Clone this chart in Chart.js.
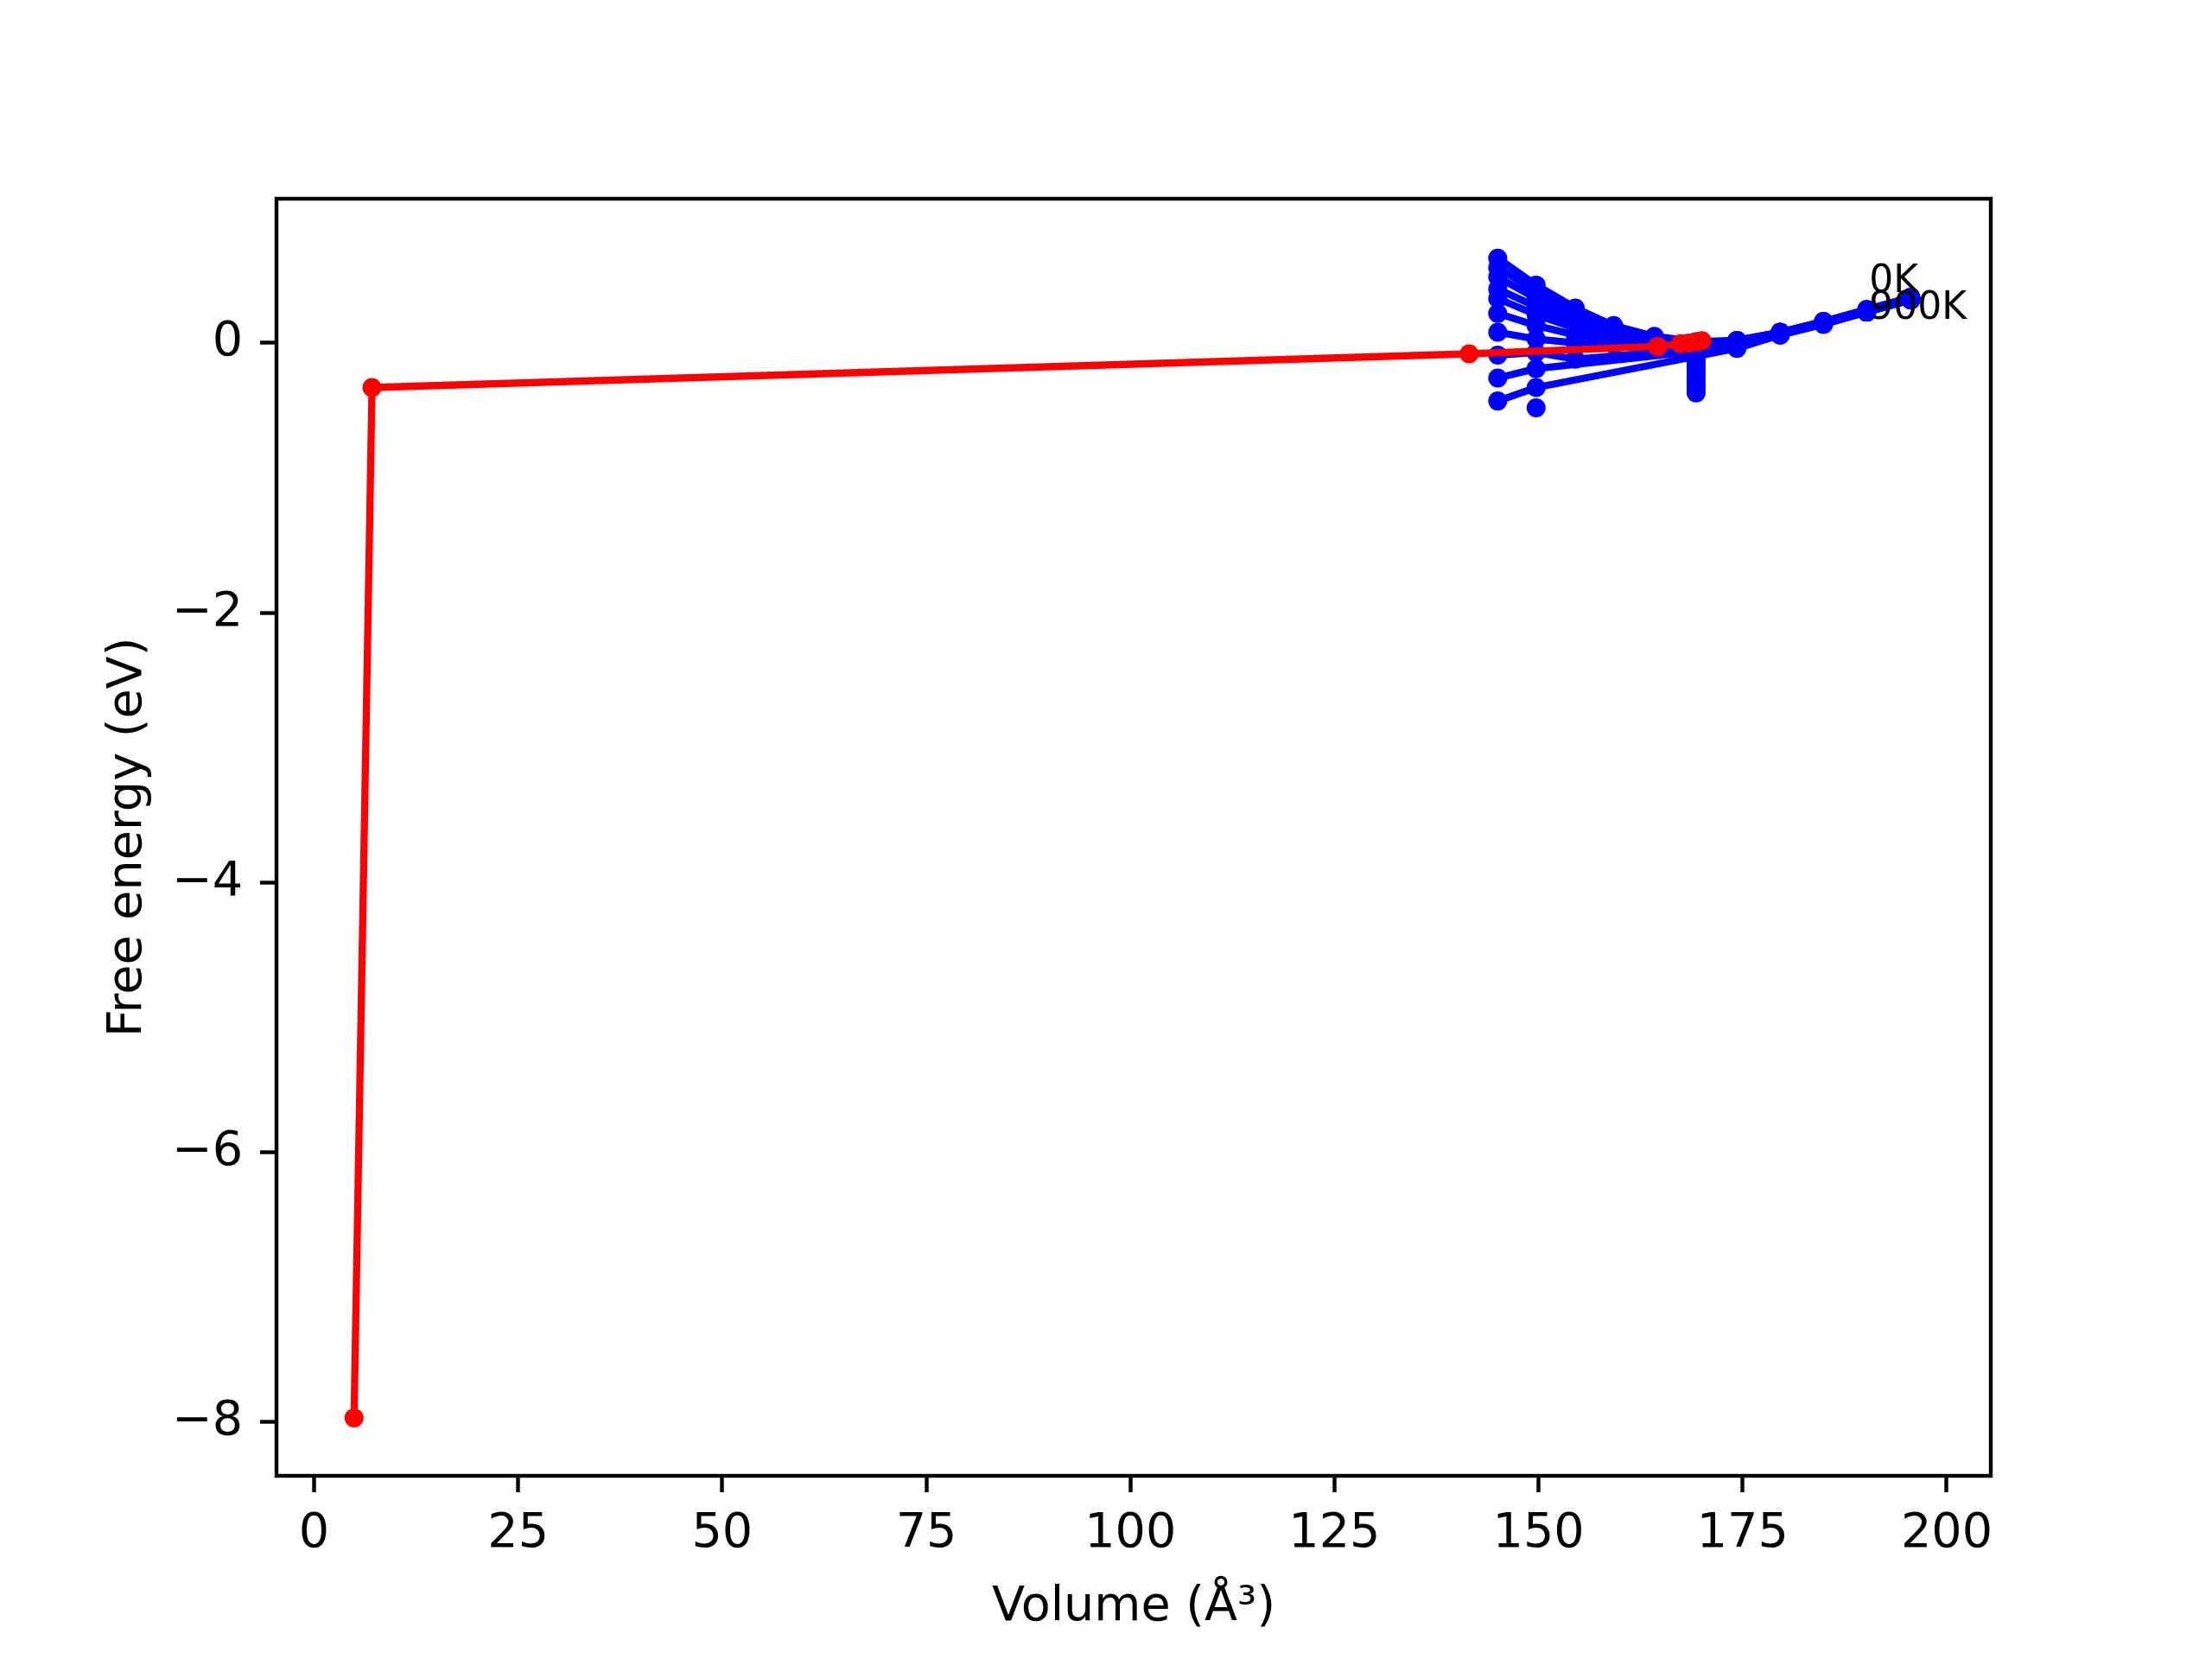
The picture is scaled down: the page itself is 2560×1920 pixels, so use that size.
<!DOCTYPE html>
<html>
<head>
<meta charset="utf-8">
<style>
  html, body { margin: 0; padding: 0; background: #ffffff; }
  #grafico { display: block; }
</style>
<script src="https://cdn.jsdelivr.net/npm/chart.js@4.4.1/dist/chart.umd.min.js"></script>
</head>
<body>
<canvas id="grafico" width="2560" height="1920"></canvas>
<script>
// volume grid used by the blue curves (A^3)
const volumes = [145.0, 149.7, 154.5, 159.2, 164.2, 169.3, 174.3, 179.6, 184.9, 190.2, 195.6];

// free energy (eV) per temperature, null = no point at that volume
const f0K   = [0.63, 0.43, 0.26, 0.13, 0.05, 0.01, 0.02, 0.08, 0.16, 0.25, 0.34];
const f100K = [0.56, 0.38, 0.22, 0.11, 0.04, 0.00, 0.02, 0.08, 0.16, 0.24, 0.34];
const f200K = [0.49, 0.33, 0.19, 0.09, 0.03, 0.00, 0.01, 0.08, 0.15, 0.24, 0.33];
const f300K = [0.40, 0.27, 0.15, 0.07, 0.02, -0.01, 0.01, 0.07, 0.15, 0.24, 0.33];
const f400K = [0.33, 0.21, 0.11, 0.05, 0.01, -0.01, 0.00, 0.07, 0.15, 0.24, 0.33];
const f500K = [0.22, 0.13, 0.06, 0.02, 0.00, -0.02, 0.00, 0.07, 0.15, 0.23, 0.33];
const f600K = [0.08, 0.03, 0.00, -0.01, -0.01, -0.02, -0.01, 0.07, 0.15, 0.23, 0.32];
const f700K = [-0.09, -0.07, -0.12, null, null, null, -0.02, 0.07, 0.14, 0.23, 0.32];
const f800K = [-0.26, -0.19, null, null, null, null, -0.03, 0.06, 0.14, 0.23, 0.32];
const f900K = [-0.43, -0.33, null, null, null, null, -0.04, 0.06, 0.14, 0.23, 0.32];

// column of points at one volume
const columnVolume = 169.3;
const columnF = [-0.02, -0.05, -0.08, -0.11, -0.14, -0.17, -0.20, -0.23, -0.26, -0.29, -0.32, -0.35, -0.37];

// lone point
const loneVolume = [149.7];
const loneF = [-0.48];

// red curve
const redVolumes = [4.9, 7.1, 141.5, 164.6, 167.4, 168.4, 169.3, 170.0];
const redF = [-7.97, -0.33, -0.08, -0.025, -0.005, 0.0, 0.008, 0.018];

// text labels
const labelTexts = ["0K", "900K"];
const labelX = [190.5, 190.5];
const labelY = [0.38, 0.18];

// axes
const xTicks = [0, 25, 50, 75, 100, 125, 150, 175, 200];
const yTicks = [-8, -6, -4, -2, 0];

const blueSeries = [f0K, f100K, f200K, f300K, f400K, f500K, f600K, f700K, f800K, f900K];

function pontos(xs, ys) {
    return xs.map((x, i) => ({ x: x, y: ys[i] })).filter(p => p.y !== null);
}

function linha(data, cor, ordem) {
    return {
        data: data,
        showLine: true,
        borderColor: cor,
        backgroundColor: cor,
        borderWidth: 8.3,
        borderJoinStyle: "round",
        pointRadius: 11,
        pointHoverRadius: 11,
        pointBorderWidth: 0,
        pointBackgroundColor: cor,
        order: ordem
    };
}

const datasets = [];
datasets.push(linha(pontos(redVolumes, redF), "#ff0000", 0));
blueSeries.forEach(serie => {
    datasets.push(linha(pontos(volumes, serie), "#0000ff", 1));
});
datasets.push(linha(pontos(columnF.map(() => columnVolume), columnF), "#0000ff", 1));
const lone = linha(pontos(loneVolume, loneF), "#0000ff", 1);
lone.showLine = false;
datasets.push(lone);

const fonte = "'DejaVu Sans', sans-serif";

const molduraPlugin = {
    id: "moldura",
    afterDatasetsDraw(chart) {
        const ctx = chart.ctx;
        const x = chart.scales.x;
        const y = chart.scales.y;
        ctx.save();
        ctx.fillStyle = "#000000";
        ctx.font = "44px " + fonte;
        ctx.textAlign = "left";
        ctx.textBaseline = "alphabetic";
        labelTexts.forEach((t, i) => {
            ctx.fillText(t, x.getPixelForValue(labelX[i]), y.getPixelForValue(labelY[i]));
        });
        ctx.restore();
    },
    afterDraw(chart) {
        const a = chart.chartArea;
        const ctx = chart.ctx;
        ctx.save();
        ctx.strokeStyle = "#000000";
        ctx.lineWidth = 4.4;
        ctx.strokeRect(a.left, a.top, a.right - a.left, a.bottom - a.top);
        ctx.restore();
    }
};

function formatar(v) {
    return String(v).replace("-", "\u2212");
}

new Chart(document.getElementById("grafico"), {
    type: "scatter",
    data: { datasets: datasets },
    options: {
        responsive: false,
        animation: false,
        devicePixelRatio: 1,
        layout: { padding: { top: 230, right: 256, left: 0, bottom: 0 } },
        plugins: {
            legend: { display: false },
            tooltip: { enabled: false }
        },
        scales: {
            x: {
                type: "linear",
                min: -4.6,
                max: 205.4,
                afterFit: s => { s.height = 212; },
                afterBuildTicks: s => { s.ticks = xTicks.map(v => ({ value: v })); },
                border: { display: false },
                grid: {
                    drawOnChartArea: false,
                    drawTicks: true,
                    tickLength: 19,
                    tickWidth: 4.4,
                    tickColor: "#000000"
                },
                ticks: {
                    padding: 15,
                    color: "#000000",
                    font: { family: fonte, size: 55.6 },
                    maxRotation: 0,
                    callback: v => formatar(v)
                },
                title: {
                    display: true,
                    text: "Volume (Å³)",
                    color: "#000000",
                    font: { family: fonte, size: 55.6 },
                    padding: { top: 0, bottom: 26 }
                }
            },
            y: {
                type: "linear",
                min: -8.40,
                max: 1.07,
                afterFit: s => { s.width = 320; },
                afterBuildTicks: s => { s.ticks = yTicks.map(v => ({ value: v })); },
                border: { display: false },
                grid: {
                    drawOnChartArea: false,
                    drawTicks: true,
                    tickLength: 19,
                    tickWidth: 4.4,
                    tickColor: "#000000"
                },
                ticks: {
                    padding: 20,
                    color: "#000000",
                    font: { family: fonte, size: 55.6 },
                    callback: v => formatar(v)
                },
                title: {
                    display: true,
                    text: "Free energy (eV)",
                    color: "#000000",
                    font: { family: fonte, size: 55.6 },
                    padding: { top: 115, bottom: 0 }
                }
            }
        }
    },
    plugins: [molduraPlugin]
});
</script>
</body>
</html>
